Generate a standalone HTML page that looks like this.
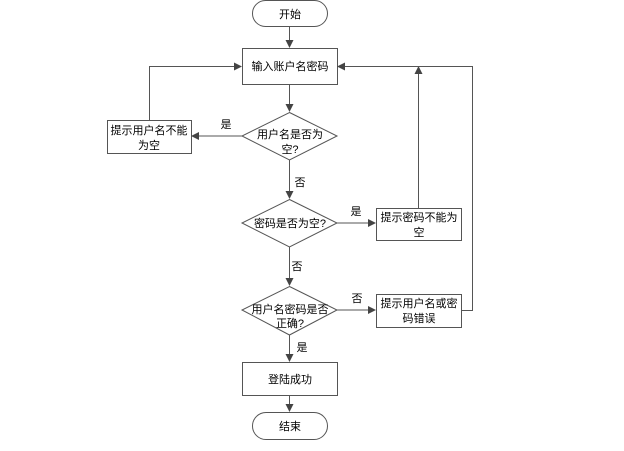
<!DOCTYPE html>
<html><head><meta charset="utf-8"><style>
html,body{margin:0;padding:0;background:#fff;}
text{font-family:"Liberation Sans","Noto Sans CJK SC",sans-serif;font-size:11px;fill:#000;}
</style></head><body>
<svg width="624" height="446" viewBox="0 0 624 446" xmlns="http://www.w3.org/2000/svg">
<defs><marker id="a" markerWidth="8" markerHeight="8" refX="7" refY="4" orient="auto" markerUnits="userSpaceOnUse"><path d="M0,0 L8,4 L0,8 Z" fill="#444"/></marker></defs>
<g fill="#fff" stroke="#555" stroke-width="1">
<rect x="252.5" y="0.5" width="75" height="26" rx="13"/>
<rect x="242.5" y="48.5" width="95" height="36"/>
<polygon points="289.5,112.5 337,136 289.5,160 242,136"/>
<rect x="107.5" y="120.5" width="84" height="33"/>
<polygon points="289.5,199.5 337,223 289.5,247 242,223"/>
<rect x="376.5" y="208.5" width="85" height="32"/>
<polygon points="289.5,286.5 337,310 289.5,335 242,310"/>
<rect x="376.5" y="294.5" width="85" height="33"/>
<rect x="242.5" y="362.5" width="95" height="33"/>
<rect x="252.5" y="412.5" width="75" height="27" rx="13.5"/>
</g>
<g fill="none" stroke="#555" stroke-width="1">
<line x1="289.5" y1="27" x2="289.5" y2="47" marker-end="url(#a)"/>
<line x1="289.5" y1="85" x2="289.5" y2="111" marker-end="url(#a)"/>
<line x1="242" y1="136" x2="192" y2="136" marker-end="url(#a)"/>
<polyline points="149.5,120 149.5,66.5 241,66.5" marker-end="url(#a)"/>
<line x1="289.5" y1="160" x2="289.5" y2="198" marker-end="url(#a)"/>
<line x1="337" y1="223" x2="375" y2="223" marker-end="url(#a)"/>
<line x1="418.5" y1="208" x2="418.5" y2="67" marker-end="url(#a)"/>
<line x1="289.5" y1="247" x2="289.5" y2="285" marker-end="url(#a)"/>
<line x1="337" y1="310" x2="375" y2="310" marker-end="url(#a)"/>
<polyline points="462,310.5 472.5,310.5 472.5,66.5 338,66.5" marker-end="url(#a)"/>
<line x1="289.5" y1="335" x2="289.5" y2="361" marker-end="url(#a)"/>
<line x1="289.5" y1="396" x2="289.5" y2="411" marker-end="url(#a)"/>
</g>
<g text-anchor="middle">
<text x="290" y="18">开始</text>
<text x="290" y="70">输入账户名密码</text>
<text x="290" y="138">用户名是否为</text>
<text x="290" y="153">空?</text>
<text x="149" y="134">提示用户名不能</text>
<text x="149" y="149">为空</text>
<text x="290" y="227">密码是否为空?</text>
<text x="419" y="221">提示密码不能为</text>
<text x="419" y="236">空</text>
<text x="290" y="313">用户名密码是否</text>
<text x="290" y="327">正确?</text>
<text x="419" y="307">提示用户名或密</text>
<text x="419" y="322">码错误</text>
<text x="290" y="383">登陆成功</text>
<text x="290" y="430">结束</text>
<text x="226" y="128">是</text>
<text x="300" y="186">否</text>
<text x="356" y="215">是</text>
<text x="297" y="270">否</text>
<text x="357" y="302">否</text>
<text x="302" y="351">是</text>
</g>
</svg>
</body></html>
